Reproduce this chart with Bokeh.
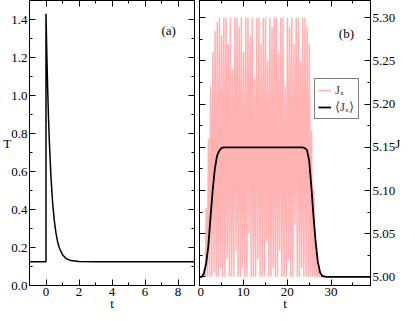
import numpy as np
from bokeh.plotting import figure
from bokeh.layouts import row
from bokeh.models import (Range1d, LinearAxis, SingleIntervalTicker, NumeralTickFormatter,
                          Label, Legend, LegendItem)
from bokeh.embed import file_html
from bokeh.resources import INLINE

# ---------------- data ----------------
# panel (a): temperature T(t)
T_time = [-1.0, 0.0, 0.0, 0.05, 0.1, 0.15, 0.2, 0.3, 0.4, 0.5, 0.6, 0.7, 0.8, 1.0, 1.2, 1.5, 2.0, 3.0, 9.0]
T_vals = [0.125, 0.125, 1.43, 1.216, 1.04, 0.889, 0.764, 0.572, 0.438, 0.344, 0.278, 0.232, 0.200,
          0.162, 0.143, 0.131, 0.126, 0.125, 0.125]

# panel (b): averaged <Jx>
Javg_time = [0.0, 0.5, 1.0, 1.5, 2.0, 2.5, 3.0, 3.5, 4.0, 4.5, 5.0, 5.5, 6.0,
             23.5, 24.0, 24.5, 25.0, 25.5, 26.0, 26.5, 27.0, 27.5, 28.0, 29.0, 39.0]
Javg_vals = [5.000, 5.000, 5.004, 5.015, 5.035, 5.068, 5.100, 5.125, 5.140, 5.146, 5.149, 5.150, 5.150,
             5.150, 5.149, 5.147, 5.135, 5.105, 5.070, 5.040, 5.017, 5.005, 5.001, 5.000, 5.000]

# panel (b): oscillating Jx, sampled every 0.25 from t = 0.8 (alternating low / high)
Jx_start, Jx_step = 0.8, 0.25
Jx_vals = [
    5.000, 5.010, 5.000, 5.080, 5.000, 5.160, 5.000, 5.220, 5.000, 5.260,
    5.005, 5.285, 5.000, 5.295, 5.000, 5.300, 5.010, 5.280, 5.000, 5.300,
    5.000, 5.300, 5.020, 5.270, 5.000, 5.300, 5.000, 5.240, 5.000, 5.300,
    5.030, 5.300, 5.000, 5.290, 5.000, 5.300, 5.010, 5.260, 5.000, 5.300,
    5.000, 5.300, 5.050, 5.280, 5.000, 5.300, 5.000, 5.230, 5.000, 5.300,
    5.020, 5.300, 5.000, 5.270, 5.000, 5.300, 5.000, 5.300, 5.040, 5.250,
    5.000, 5.300, 5.000, 5.290, 5.010, 5.300, 5.000, 5.300, 5.000, 5.260,
    5.030, 5.300, 5.000, 5.300, 5.000, 5.220, 5.000, 5.300, 5.020, 5.290,
    5.000, 5.300, 5.000, 5.270, 5.060, 5.300, 5.000, 5.300, 5.000, 5.250,
    5.010, 5.300, 5.000, 5.300, 5.000, 5.290, 5.000, 5.270, 5.000, 5.170,
    5.000, 5.100, 5.000, 5.040, 5.000, 5.010, 5.000, 5.000,
]
Jx_time = [0.0] + [round(Jx_start + Jx_step * i, 2) for i in range(len(Jx_vals))] + [39.0]
Jx_full = [5.0] + Jx_vals + [5.0]

a_xticks_interval, a_yticks_interval = 2, 0.2
b_xticks_interval, b_yticks_interval = 10, 0.05

FONT = "Liberation Serif"
FS = "13px"


def style_axis(ax, labels=True):
    ax.major_tick_in = 6
    ax.major_tick_out = 0
    ax.minor_tick_in = 3
    ax.minor_tick_out = 0
    ax.axis_line_color = "black"
    ax.major_tick_line_color = "black"
    ax.minor_tick_line_color = "black"
    ax.major_label_text_font = FONT
    ax.major_label_text_font_size = FS if labels else "0px"
    ax.major_label_text_color = "black"
    ax.major_label_standoff = 2 if labels else 0
    ax.axis_label_text_font = FONT
    ax.axis_label_text_font_size = FS
    ax.axis_label_text_font_style = "normal"
    ax.axis_label_text_color = "black"
    ax.axis_label_standoff = -3


def base_fig(width, xr, yr, mbl, mbr, y_location="left"):
    p = figure(width=width, height=313, x_range=xr, y_range=yr,
               output_backend="svg", toolbar_location=None,
               min_border_left=mbl, min_border_right=mbr, min_border_top=0, min_border_bottom=26,
               x_axis_location="below", y_axis_location=y_location)
    p.outline_line_color = "black"
    p.outline_line_width = 1
    p.xgrid.visible = False
    p.ygrid.visible = False
    p.background_fill_color = "white"
    p.border_fill_color = "white"
    return p


# ---------------- panel (a) ----------------
pa = base_fig(197, Range1d(-1, 9), Range1d(0, 1.5), 24, 3)
pa.line(T_time, T_vals, line_color="black", line_width=1.5)
xt_a = SingleIntervalTicker(interval=a_xticks_interval, num_minor_ticks=2)
yt_a = SingleIntervalTicker(interval=a_yticks_interval, num_minor_ticks=2)
pa.xaxis.ticker = xt_a
pa.yaxis.ticker = yt_a
pa.yaxis.formatter = NumeralTickFormatter(format="0.0")
pa.xaxis.axis_label = "t"
pa.yaxis.axis_label = "T"
pa.yaxis.axis_label_orientation = "horizontal"
for ax in pa.axis:
    style_axis(ax)
top_a = LinearAxis(ticker=xt_a)
right_a = LinearAxis(ticker=yt_a)
style_axis(top_a, labels=False)
style_axis(right_a, labels=False)
pa.add_layout(top_a, "above")
pa.add_layout(right_a, "right")
pa.add_layout(Label(x=7.43, y=1.34, text="(a)", text_font=FONT, text_font_size=FS,
                    text_align="center", text_baseline="middle", text_color="black"))

# ---------------- panel (b) ----------------
pb = base_fig(210, Range1d(0, 39), Range1d(4.99, 5.32), 2, 37, y_location="right")
r_jx = pb.line(Jx_time, Jx_full, line_color="#ff0000", line_alpha=0.3, line_width=1.5)
r_avg = pb.line(Javg_time, Javg_vals, line_color="black", line_width=1.8)
xt_b = SingleIntervalTicker(interval=b_xticks_interval, num_minor_ticks=2)
yt_b = SingleIntervalTicker(interval=b_yticks_interval, num_minor_ticks=2)
pb.xaxis.ticker = xt_b
pb.yaxis.ticker = yt_b
pb.yaxis.formatter = NumeralTickFormatter(format="0.00")
pb.xaxis.axis_label = "t"
pb.yaxis.axis_label = "J"
pb.yaxis.axis_label_orientation = "horizontal"
for ax in pb.axis:
    style_axis(ax)
top_b = LinearAxis(ticker=xt_b)
left_b = LinearAxis(ticker=yt_b)
style_axis(top_b, labels=False)
style_axis(left_b, labels=False)
pb.add_layout(top_b, "above")
pb.add_layout(left_b, "left")
pb.add_layout(Label(x=33.5, y=5.282, text="(b)", text_font=FONT, text_font_size=FS,
                    text_align="center", text_baseline="middle", text_color="black"))

legend = Legend(items=[LegendItem(label="J\u2093", renderers=[r_jx]),
                       LegendItem(label="\u27e8J\u2093\u27e9", renderers=[r_avg])],
                location=(115, 166))
legend.border_line_color = "black"
legend.border_line_width = 1
legend.background_fill_color = "white"
legend.background_fill_alpha = 1
legend.label_text_font = FONT
legend.label_text_font_size = FS
legend.glyph_width = 13
legend.glyph_height = 16
legend.label_height = 16
legend.label_standoff = 4
legend.padding = 3
legend.spacing = 1
legend.margin = 0
pb.add_layout(legend, "center")

layout = row(pa, pb)
open("out.html", "w").write(file_html(layout, INLINE))
